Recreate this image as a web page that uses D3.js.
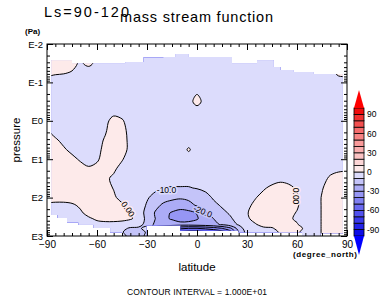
<!DOCTYPE html>
<html>
<head>
<meta charset="utf-8">
<script src="https://cdn.jsdelivr.net/npm/d3@7"></script>
<style>
  body { margin: 0; background: #fff; }
  svg { display: block; font-family: "Liberation Sans", Arial, sans-serif; }
</style>
</head>
<body>
<div id="chart"></div>
<script>
// grid of the stream function (contour interval 10)
const lats = [-90,-85,-80,-75,-70,-65,-60,-55,-50,-45,-40,-35,-30,-25,-20,-15,-10,-5,0,
              5,10,15,20,25,30,35,40,45,50,55,60,65,70,75,80,85,90];
const logps = [-2,-1.75,-1.5,-1.25,-1,-0.75,-0.5,-0.25,0,0.25,0.5,0.75,1,1.25,1.5,1.75,2,2.2,2.4,2.55,2.7,2.8,2.9,3];

const psi = [
  [4,4,4,2,-1,2,-2,-4,-4,-4,-4,-4,-4,-4,-4,-4,-4,-4,-4,-4,-4,-4,-4,-4,-4,-4,-4,-4,-4,-4,-4,-4,-4,-4,-2,3,3],
  [4,4,4,2,-1,2,-2,-4,-4,-4,-4,-4,-4,-4,-4,-4,-4,-4,-4,-4,-4,-4,-4,-4,-4,-4,-4,-4,-4,-4,-4,-4,-4,-4,-2,3,3],
  [4,4,4,2,-1,2,-2,-4,-4,-4,-4,-4,-4,-4,-4,-4,-4,-4,-4,-4,-4,-4,-4,-4,-4,-4,-4,-4,-4,-4,-4,-4,-4,-4,-2,3,3],
  [2,1,0.5,-0.5,-4,-4,-4,-4,-4,-4,-4,-4,-4,-4,-4,-4,-4,-4,-4,-4,-4,-4,-4,-4,-4,-4,-4,-4,-4,-4,-4,-4,-4,-4,-3,2,2],
  [-4,-4,-4,-4,-4,-4,-4,-4,-4,-4,-4,-4,-4,-4,-4,-4,-4,-4,-4,-4,-4,-4,-4,-4,-4,-4,-4,-4,-4,-4,-4,-4,-4,-4,-4,-4,-4],
  [-4,-4,-4,-4,-4,-4,-4,-4,-4,-4,-4,-4,-4,-4,-4,-4,-4,-4,-1,-4,-4,-4,-4,-4,-4,-4,-4,-4,-4,-4,-4,-4,-4,-4,-4,-4,-4],
  [-4,-4,-4,-4,-4,-4,-4,-4,-4,-4,-4,-4,-4,-4,-4,-4,-4,-3,3,-3,-4,-4,-4,-4,-4,-4,-4,-4,-4,-4,-4,-4,-4,-4,-4,-4,-4],
  [-4,-4,-4,-4,-4,-4,-4,-4,-4,-4,-4,-4,-4,-4,-4,-4,-4,-4,-4,-4,-4,-4,-4,-4,-4,-4,-4,-4,-4,-4,-4,-4,-4,-4,-4,-4,-4],
  [-1,-4,-4,-4,-4,-4,-4,-3,4,1,-4,-4,-4,-4,-4,-4,-4,-4,-4,-4,-4,-4,-4,-4,-4,-4,-4,-4,-4,-4,-4,-4,-4,-4,-4,-4,-4],
  [0.5,-3,-4,-4,-4,-4,-5,-1,5,3,-3,-4,-4,-4,-4,-4,-4,-4,-4,-4,-4,-4,-4,-4,-4,-4,-4,-4,-4,-4,-4,-4,-4,-4,-4,-4,-4],
  [4,1,-2,-4,-5,-5,-3,1,5,3,-2,-4,-4,-4,-4,-4,-4,-4,-4,-4,-4,-4,-4,-4,-4,-4,-4,-4,-4,-4,-4,-4,-4,-4,-4,-4,-4],
  [5,4,1,-2,-4,-4,-2,2,5,3,-2,-4,-4,-4,-4,-4,-4,1,-4,-4,-4,-4,-4,-4,-4,-4,-4,-4,-4,-4,-4,-4,-4,-4,-4,-4,-4],
  [6,5,4,2,-1,-3,-1,3,5,0.5,-3,-4,-4,-4,-4,-4,-4,-4,-4,-4,-4,-4,-4,-4,-4,-4,-4,-4,-4,-4,-4,-4,-4,-4,-4,-4,-4],
  [6,5,5,4,3,1,2,3,1,-2,-4,-4,-4,-4,-4,-4,-4,-4,-4,-4,-4,-4,-4,-4,-4,-4,-4,-4,-4,-4,-4,-4,-4,-4,-2,-1,-1],
  [5,5,5,5,4,4,3,1,-1,-4,-4,-4,-5,-6,-7,-7,-7,-7,-6,-5,-4,-4,-4,-4,-4,-4,-4,-4,-2,-3,-4,-4,-4,-2,1,2,2],
  [5,5,5,5,5,5,4,2,-0.3,-4,-4,-5,-6,-8,-10.2,-10.5,-10.5,-10.5,-9.5,-8,-6,-5,-4,-4,-4,-4,-1,2,3,2,-1,-4,-4,-0.5,3,3,3],
  [3,3,3,3,4,4,4,3,1,-2,-5,-5,-9,-13,-16,-18,-19,-18,-16,-13,-9,-7,-5,-4,-4,-0.5,3,4,4,3,1,-4,-4,0.5,3,3,3],
  [-2,-2,-2,-1,1,3,3,3,3,1,-3,-5,-11,-17,-22,-24,-25,-23,-19,-16,-12,-9,-6,-4,-2,2,3,4,4,3,1,-4,-4,0.5,3,3,3],
  [-4,-4,-4,-3,-1,2,3,3,3,2,-0.1,-7,-12,-21,-27,-31,-34,-33,-29.5,-21,-17,-12,-9,-6,-0.5,3,3,3,3,2,-0.5,-4,-4,0.5,3,3,3],
  [-5,-5,-5,-5,-4,-1,1,2,2,2,1,-3,-13,-20,-28,-31,-35,-34,-31,-24,-20,-15,-11,-7,-1,2,3,3,3,1,-1,-4,-4,0.5,3,3,3],
  [-5,-5,-5,-5,-5,-4,-2,-2,-2,-3,-6,-6,-14,-22,-24,-25,-26,-26,-25,-24,-22,-19,-14,-9,-4,-0.5,2,2,3,2,0.5,-3,-4,0.5,3,3,3],
  [-4,-4,-4,-4,-4,-4,-3,-3,-3,-8,-11,-12,-6,-35,-40,-45,-48,-50,-50,-48,-45,-40,-32,-15,-5,-3,-1,-0.5,2,2,2,-1,-4,0.5,3,3,3],
  [-3,-3,-3,-3,-3,-3,-3,-3,-3,-9,-16,-18,-8,-45,-55,-60,-62,-65,-65,-62,-60,-55,-45,-20,-6,-3,-3,-3,1,1,1,-2,-4,0.5,3,3,3],
  [-3,-3,-3,-3,-3,-3,-3,-3,-3,-7,-13,-14,-8,-45,-55,-60,-62,-65,-65,-62,-60,-55,-45,-20,-6,-3,-3,-3,1,1,1,-2,-4,0.5,3,3,3]
];

// missing-value edges: model top and ground, step after each latitude
const topLat  = [-87.5,-75,-43,-32,-20,-13,-5,21,36,46,50,58,70,87.5];
const topLogp = [-1.58,-1.5,-1.53,-1.64,-1.66,-1.74,-1.66,-1.5,-1.58,-1.4,-1.32,-1.27,-1.22,-1.22];
const sfcLat  = [-87.5,-83.5,-78,-71,-62,-52,-45,-30.5,-10,25,37,63,74,87.5];
const sfcLogp = [2.45,2.53,2.64,2.71,2.79,2.9,3.0,2.72,2.86,2.9,2.9,3.0,2.93,2.93];

const levels = [-100,-90,-80,-70,-60,-50,-40,-30,-20,-10,0,10,20,30,40,50,60,70,80,90,100];
const bandColors = ["#0c0ce8","#2424ea","#3b3bec","#5252ee","#6a6af0","#8080f2","#9696f4","#acacf6","#c4c4f9","#dcdcfc",
                    "#fdeaea","#fcd6d6","#fbc2c2","#faaeae","#f99a9a","#f78484","#f56c6c","#f35050","#f13030","#ef0d0d"];
const xTicks = [-90,-60,-30,0,30,60,90];
const yTicks = [0.01,0.1,1,10,100,1000];
const yTickLabels = ["E-2","E-1","E0","E1","E2","E3"];
const cbTicks = [90,60,30,0,-30,-60,-90];
const contourLabels = [
  {text: "-10.0", lat: -18.3, logp: 1.80, angle: 0, value: -10},
  {text: "-20.0", lat: 3.5, logp: 2.36, angle: 23, value: -20},
  {text: "0.00", lat: -41.4, logp: 2.30, angle: 55, value: 0},
  {text: "0.00", lat: 59.4, logp: 1.96, angle: 90, value: 0}
];

const W = 381, H = 301;
const svg = d3.select("#chart").append("svg").attr("width", W).attr("height", H);

const x = d3.scaleLinear().domain([-90, 90]).range([47, 347]);
const y = d3.scaleLog().domain([0.01, 1000]).range([44, 236]);
const yl = v => y(Math.pow(10, v));
const bandColor = d3.scaleThreshold().domain(levels.slice(1, -1)).range(bandColors);

// contour grid -> data coords
const nx = lats.length, ny = logps.length;
const gx = d3.scaleLinear().domain([0, nx - 1]).range([lats[0], lats[nx - 1]]);
const gy = d3.scaleLinear().domain(d3.range(ny)).range(logps);
const contours = d3.contours().size([nx, ny]).thresholds(levels.slice(0, -1))(psi.flat());
const toPx = p => [x(gx(p[0] - 0.5)), yl(gy(p[1] - 0.5))];
const ring = d3.line().curve(d3.curveCatmullRomClosed.alpha(0.5));
const shapePath = c => c.coordinates.map(poly => poly.map(r => ring(r.slice(0, -1).map(toPx))).join("")).join("");

const defs = svg.append("defs");
defs.append("clipPath").attr("id", "belowTop").append("path")
  .attr("d", d3.area().curve(d3.curveStepAfter)
    .x(d => x(d[0])).y0(y.range()[1]).y1(d => yl(d[1]))(d3.zip(topLat, topLogp)));
defs.append("clipPath").attr("id", "aboveSfc").append("path")
  .attr("d", d3.area().curve(d3.curveStepAfter)
    .x(d => x(d[0])).y0(y.range()[0]).y1(d => yl(d[1]))(d3.zip(sfcLat, sfcLogp)));

const field = svg.append("g").attr("clip-path", "url(#belowTop)")
  .append("g").attr("clip-path", "url(#aboveSfc)");

field.selectAll("path.band")
  .data(contours)
  .join("path")
  .attr("class", "band")
  .attr("d", shapePath)
  .attr("fill-rule", "evenodd")
  .attr("fill", d => bandColor(d.value));

field.selectAll("path.iso")
  .data(contours.filter(c => c.value > levels[0]))
  .join("path")
  .attr("class", "iso")
  .attr("d", shapePath)
  .attr("fill", "none")
  .attr("stroke", "#000")
  .attr("stroke-width", 1);

// contour labels
svg.append("g").selectAll("text")
  .data(contourLabels)
  .join("text")
  .attr("transform", d => `translate(${x(d.lat)},${yl(d.logp)}) rotate(${d.angle})`)
  .attr("text-anchor", "middle")
  .attr("dy", "0.35em")
  .attr("font-size", 8.5)
  .attr("fill", "#000")
  .attr("stroke", d => bandColor(d.value))
  .attr("stroke-width", 3)
  .attr("paint-order", "stroke")
  .text(d => d.text);

// axes (ticks point inward)
function clean(g) {
  g.select(".domain").remove();
  g.selectAll(".tick line").attr("stroke", "#000");
  g.selectAll("text").attr("fill", "#000").attr("font-family", "Liberation Sans, Arial, sans-serif");
}
const minorX = d3.range(-90, 91, 5);
const minorY = [];
yTicks.slice(0, -1).forEach(t => [2,3,4,5,6,7,8,9].forEach(k => minorY.push(t * k)));
const yBot = y.range()[1], yTop = y.range()[0], xL = x.range()[0], xR = x.range()[1];

svg.append("g").attr("transform", `translate(0,${yBot})`)
  .call(d3.axisBottom(x).tickValues(minorX).tickSize(-3).tickFormat("")).call(clean);
svg.append("g").attr("transform", `translate(0,${yBot})`)
  .call(d3.axisBottom(x).tickValues(xTicks).tickSize(-6).tickPadding(5).tickFormat(d3.format("d")))
  .call(clean)
  .selectAll("text").attr("font-size", 10);
svg.append("g").attr("transform", `translate(0,${yTop})`)
  .call(d3.axisTop(x).tickValues(minorX).tickSize(-3).tickFormat("")).call(clean);
svg.append("g").attr("transform", `translate(0,${yTop})`)
  .call(d3.axisTop(x).tickValues(xTicks).tickSize(-6).tickFormat("")).call(clean);

svg.append("g").attr("transform", `translate(${xL},0)`)
  .call(d3.axisLeft(y).tickValues(minorY).tickSize(-3).tickFormat("")).call(clean);
svg.append("g").attr("transform", `translate(${xL},0)`)
  .call(d3.axisLeft(y).tickValues(yTicks).tickSize(-6).tickPadding(4).tickFormat((d, i) => yTickLabels[i]))
  .call(clean)
  .selectAll("text").attr("font-size", 9.5);
svg.append("g").attr("transform", `translate(${xR},0)`)
  .call(d3.axisRight(y).tickValues(minorY).tickSize(-3).tickFormat("")).call(clean);
svg.append("g").attr("transform", `translate(${xR},0)`)
  .call(d3.axisRight(y).tickValues(yTicks).tickSize(-6).tickFormat("")).call(clean);

svg.append("rect")
  .attr("x", xL).attr("y", yTop).attr("width", xR - xL).attr("height", yBot - yTop)
  .attr("fill", "none").attr("stroke", "#000").attr("stroke-width", 1);

// colour bar
const cb = d3.scaleLinear().domain([-100, 100]).range([236, 108]);
const cbX = 354, cbW = 10;
const cbG = svg.append("g");
cbG.selectAll("rect")
  .data(bandColors)
  .join("rect")
  .attr("x", cbX)
  .attr("y", (d, i) => cb(levels[i + 1]))
  .attr("width", cbW)
  .attr("height", (d, i) => cb(levels[i]) - cb(levels[i + 1]))
  .attr("fill", d => d)
  .attr("stroke", "#000")
  .attr("stroke-width", 0.8);
cbG.append("path")
  .attr("d", `M${cbX},${cb(100)}L${cbX + cbW / 2},${cb(100) - 18}L${cbX + cbW},${cb(100)}Z`)
  .attr("fill", "#ff0000");
cbG.append("path")
  .attr("d", `M${cbX},${cb(-100)}L${cbX + cbW / 2},${cb(-100) + 19}L${cbX + cbW},${cb(-100)}Z`)
  .attr("fill", "#0000ff");
cbG.selectAll("text")
  .data(cbTicks)
  .join("text")
  .attr("x", cbX + cbW + 3)
  .attr("y", d => cb(d))
  .attr("dy", "0.35em")
  .attr("font-size", 8.5)
  .text(d => d);

// titles and axis names
svg.append("text").attr("x", 44).attr("y", 17).attr("font-size", 14.5)
  .attr("textLength", 85).text("Ls=90-120");
svg.append("text").attr("x", 120).attr("y", 22).attr("font-size", 14.5)
  .attr("textLength", 153).text("mass stream function");
svg.append("text").attr("x", 25).attr("y", 34).attr("font-size", 8).attr("font-weight", "bold")
  .text("(Pa)");
svg.append("text").attr("transform", "translate(20,140) rotate(-90)").attr("text-anchor", "middle")
  .attr("font-size", 11.5).text("pressure");
svg.append("text").attr("x", 197).attr("y", 271).attr("text-anchor", "middle")
  .attr("font-size", 11.5).text("latitude");
svg.append("text").attr("x", 293).attr("y", 257).attr("font-size", 8).attr("font-weight", "bold")
  .attr("textLength", 64).text("(degree_north)");
svg.append("text").attr("x", 127).attr("y", 295).attr("font-size", 8.5)
  .attr("textLength", 140).text("CONTOUR INTERVAL = 1.000E+01");
</script>
</body>
</html>
